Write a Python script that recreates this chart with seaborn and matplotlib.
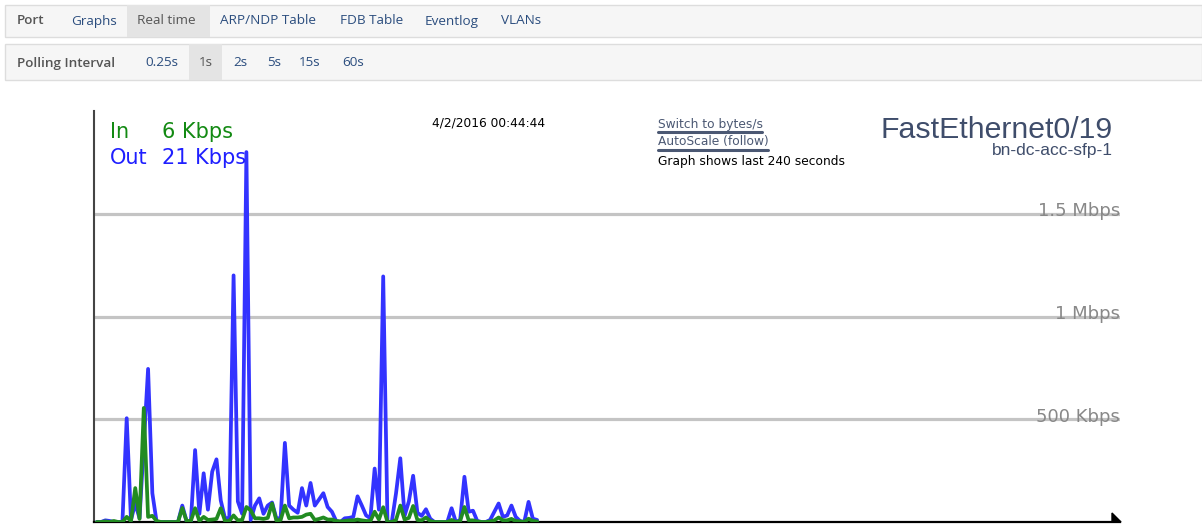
import matplotlib
matplotlib.use("Agg")
import matplotlib.pyplot as plt
import matplotlib.patches as mpatches
import pandas as pd
import seaborn as sns

# --- data (Kbps, one sample per second) ---
out_kbps = [0, 0, 8, 5, 0, 0, 0, 505, 10, 90,
            18, 380, 745, 140, 0, 0, 0, 0, 0, 0,
            80, 5, 0, 350, 40, 237, 60, 245, 305, 105,
            18, 20, 1200, 100, 40, 1800, 10, 80, 115, 40,
            80, 95, 18, 18, 385, 80, 60, 45, 165, 80,
            190, 80, 110, 140, 73, 50, 5, 0, 18, 20,
            25, 125, 80, 32, 18, 260, 60, 1195, 0, 0,
            140, 310, 30, 100, 225, 45, 30, 62, 16, 0,
            0, 0, 0, 67, 0, 10, 220, 50, 55, 5,
            0, 0, 10, 50, 90, 25, 32, 80, 25, 5,
            0, 98, 16, 10]
in_kbps = [0, 0, 3, 0, 5, 0, 0, 25, 5, 165,
           15, 555, 25, 30, 5, 0, 0, 0, 0, 0,
           68, 5, 5, 67, 5, 25, 10, 12, 15, 67,
           5, 5, 32, 8, 10, 73, 57, 18, 18, 15,
           20, 90, 8, 10, 80, 18, 22, 22, 25, 36,
           40, 10, 15, 22, 12, 12, 5, 3, 5, 8,
           8, 12, 8, 5, 5, 50, 12, 72, 0, 0,
           10, 80, 12, 20, 78, 10, 8, 22, 5, 0,
           0, 0, 0, 10, 0, 5, 73, 8, 8, 3,
           0, 0, 3, 8, 22, 8, 8, 15, 5, 3,
           0, 16, 5, 3]
seconds = list(range(len(out_kbps)))

grid_values = [500, 1000, 1500]
grid_labels = ["500 Kbps", "1 Mbps", "1.5 Mbps"]

tabs_top = ["Port", "Graphs", "Real time", "ARP/NDP Table", "FDB Table", "Eventlog", "VLANs"]
tabs_top_x = [17, 71, 137, 220, 340, 425, 501]
tabs_poll = ["Polling Interval", "0.25s", "1s", "2s", "5s", "15s", "60s"]
tabs_poll_x = [17, 145, 199, 233, 267, 299, 342]

df = pd.DataFrame({"t": seconds, "out": out_kbps, "in": in_kbps})

W, H = 1202, 525
sns.set_style("white")
plt.rcParams["font.family"] = ["DejaVu Sans"]

fig = plt.figure(figsize=(W / 100, H / 100), dpi=100)


def fx(x):
    return x / W


def fy(y):
    return 1 - y / H


# --- navigation bars ---
link = "#2b4d7e"
for top, bottom in [(5, 37), (44, 80)]:
    fig.patches.append(mpatches.Rectangle((fx(5), fy(bottom)), fx(W - 5), (bottom - top) / H,
                                          transform=fig.transFigure, facecolor="#f6f6f6",
                                          edgecolor="#dddddd", linewidth=1))
fig.patches.append(mpatches.Rectangle((fx(127), fy(37)), fx(83), 32 / H, transform=fig.transFigure,
                                      facecolor="#e4e4e4", edgecolor="none"))
fig.patches.append(mpatches.Rectangle((fx(189), fy(80)), fx(33), 36 / H, transform=fig.transFigure,
                                      facecolor="#e4e4e4", edgecolor="none"))

for lab, x in zip(tabs_top, tabs_top_x):
    col = "#555555" if lab in ("Port", "Real time") else link
    fig.text(fx(x), fy(21), lab, color=col, fontsize=9.7, va="center", family="Open Sans",
             fontweight="semibold" if lab == "Port" else "normal")
for i, (lab, x) in enumerate(zip(tabs_poll, tabs_poll_x)):
    col = "#555555" if i == 0 or lab == "1s" else link
    fig.text(fx(x), fy(63), lab, color=col, fontsize=9.7, va="center", family="Open Sans",
             fontweight="semibold" if i == 0 else "normal")

# --- graph ---
ax = fig.add_axes([fx(94), fy(522), fx(1120 - 94), (522 - 111) / H])
for v, lab in zip(grid_values, grid_labels):
    ax.axhline(v, color="#c4c4c4", linewidth=2.3, zorder=1)
    ax.text(1.0, v - 12, lab, transform=ax.get_yaxis_transform(), ha="right", va="baseline",
            fontsize=13, color="#888888")

sns.lineplot(data=df, x="t", y="out", ax=ax, color="#3333ff", linewidth=2.7, zorder=3)
sns.lineplot(data=df, x="t", y="in", ax=ax, color="#228b22", linewidth=2.7, zorder=4)

ax.set_xlim(-0.65, 239.35)
ax.set_ylim(0, 2000)
ax.set_xticks([])
ax.set_yticks([])
ax.set_xlabel("")
ax.set_ylabel("")
for s in ("top", "right"):
    ax.spines[s].set_visible(False)
ax.spines["left"].set_color("#444444")
ax.spines["left"].set_linewidth(1.5)
ax.spines["bottom"].set_color("black")
ax.spines["bottom"].set_linewidth(1.6)

# arrow head at the end of the time axis
fig.patches.append(mpatches.Polygon([(fx(1112), fy(522)), (fx(1112), fy(513)), (fx(1121), fy(522))],
                                    closed=True, transform=fig.transFigure, facecolor="black",
                                    edgecolor="black"))

# --- labels inside the graph ---
fig.text(fx(110), fy(138), "In", color="#138a13", fontsize=15, va="baseline")
fig.text(fx(162), fy(138), "6 Kbps", color="#138a13", fontsize=15, va="baseline")
fig.text(fx(110), fy(164), "Out", color="#1f1fff", fontsize=15, va="baseline")
fig.text(fx(162), fy(164), "21 Kbps", color="#1f1fff", fontsize=15, va="baseline")

fig.text(fx(432), fy(127), "4/2/2016 00:44:44", color="black", fontsize=8.8, va="baseline")

slate = "#4b5873"
fig.text(fx(658), fy(128), "Switch to bytes/s", color=slate, fontsize=8.8, va="baseline")
fig.add_artist(plt.Line2D([fx(658), fx(762)], [fy(132), fy(132)], color=slate, linewidth=2.2))
fig.text(fx(658), fy(145), "AutoScale (follow)", color=slate, fontsize=8.8, va="baseline")
fig.add_artist(plt.Line2D([fx(658), fx(768)], [fy(150), fy(150)], color=slate, linewidth=2.2))
fig.text(fx(658), fy(165), "Graph shows last 240 seconds", color="black", fontsize=8.8, va="baseline")

fig.text(fx(1113), fy(138), "FastEthernet0/19", color="#3f4d6b", fontsize=21.8, ha="right",
         va="baseline", family="Liberation Sans")
fig.text(fx(1113), fy(155), "bn-dc-acc-sfp-1", color="#3f4d6b", fontsize=12.5, ha="right",
         va="baseline", family="Liberation Sans")

fig.savefig("out.png", dpi=100)
